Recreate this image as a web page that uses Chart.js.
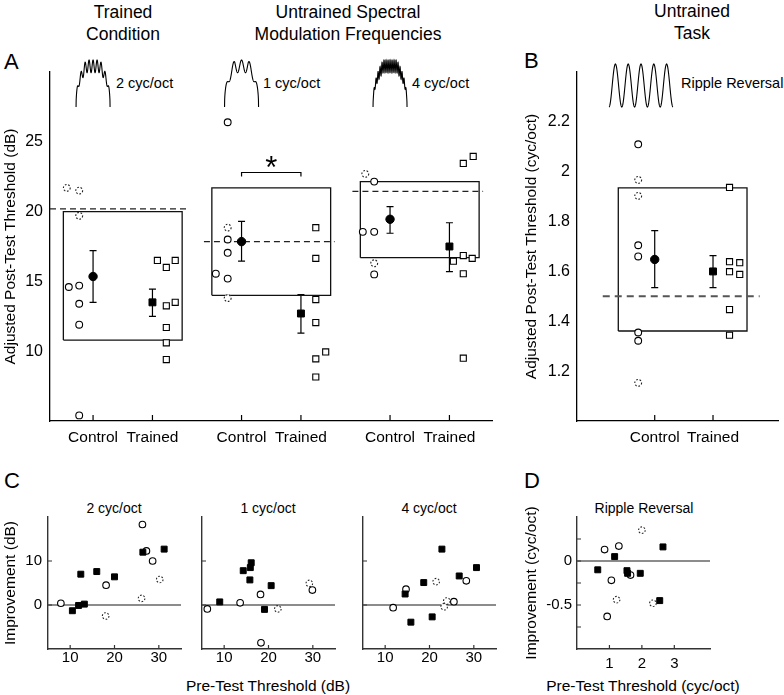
<!DOCTYPE html>
<html><head><meta charset="utf-8">
<script src="https://cdn.jsdelivr.net/npm/chart.js@4.4.1/dist/chart.umd.min.js"></script>
<style>
html,body{margin:0;padding:0;background:#fff;}
body{width:784px;height:695px;position:relative;overflow:hidden;font-family:"Liberation Sans",Arial,Helvetica,sans-serif;color:#000;}
canvas{position:absolute;}
.t{position:absolute;white-space:nowrap;}
.ttl{font-size:17.5px;line-height:22px;text-align:center;}
.let{font-size:22px;line-height:26px;}
.ic{font-size:14.5px;line-height:18px;}
.sub{font-size:14px;line-height:18px;text-align:center;width:140px;}
.xt{font-size:15.5px;line-height:20px;text-align:center;width:300px;top:676px;}
</style></head><body>
<div class="t ttl" style="left:23px;top:1px;width:200px;">Trained<br>Condition</div>
<div class="t ttl" style="left:198px;top:1px;width:300px;">Untrained Spectral<br>Modulation Frequencies</div>
<div class="t ttl" style="left:592px;top:0px;width:200px;">Untrained<br>Task</div>
<div class="t let" style="left:4px;top:49px;">A</div>
<div class="t let" style="left:524px;top:48px;">B</div>
<div class="t let" style="left:4px;top:468px;">C</div>
<div class="t let" style="left:524px;top:468px;">D</div>
<div class="t ic" style="left:116px;top:74px;">2 cyc/oct</div>
<div class="t ic" style="left:263px;top:74px;">1 cyc/oct</div>
<div class="t ic" style="left:412px;top:74px;">4 cyc/oct</div>
<div class="t ic" style="left:681px;top:74px;">Ripple Reversal</div>
<div class="t sub" style="left:44px;top:499px;">2 cyc/oct</div>
<div class="t sub" style="left:198px;top:499px;">1 cyc/oct</div>
<div class="t sub" style="left:359px;top:499px;">4 cyc/oct</div>
<div class="t sub" style="left:574px;top:499px;">Ripple Reversal</div>
<div class="t xt" style="left:118px;">Pre-Test Threshold (dB)</div>
<div class="t xt" style="left:493px;">Pre-Test Threshold (cyc/oct)</div>

<canvas id="cA" width="500" height="450" style="left:0px;top:0px;width:500px;height:450px;"></canvas>
<canvas id="cB" width="279" height="450" style="left:505px;top:0px;width:279px;height:450px;"></canvas>
<canvas id="cC1" width="190" height="195" style="left:0px;top:500px;width:190px;height:195px;"></canvas>
<canvas id="cC2" width="154" height="195" style="left:190px;top:500px;width:154px;height:195px;"></canvas>
<canvas id="cC3" width="160" height="195" style="left:344px;top:500px;width:160px;height:195px;"></canvas>
<canvas id="cD" width="279" height="195" style="left:505px;top:500px;width:279px;height:195px;"></canvas>

<script>
// ================= DATA =================
const groupNames = ['2 cyc/oct', '1 cyc/oct', '4 cyc/oct'];
const conditionLabels = ['Control', 'Trained'];
const spectrumCycles = [8.5, 4.3, 17];   // ripples drawn in the header icons
const yTicksA = [10, 15, 20, 25];
const yTicksB = [1.2, 1.4, 1.6, 1.8, 2, 2.2];

// Panel A: adjusted post-test thresholds (dB); *Jit = horizontal jitter of each marker
const ctrlSolid2 = [14.6, 14.7, 13.4, 11.9, 5.4];
const ctrlSolid2Jit = [-0.49, -0.28, -0.28, -0.28, -0.28];
const ctrlDash2 = [21.7, 21.5, 19.7];
const ctrlDash2Jit = [-0.53, -0.28, -0.28];
const trained2 = [16.5, 16.0, 16.5, 13.25, 13.5, 11.7, 10.6, 9.4];
const trained2Jit = [0.1, 0.28, 0.46, 0.28, 0.46, 0.28, 0.28, 0.28];

const ctrlSolid1 = [26.4, 18.0, 17.05, 15.55, 15.2];
const ctrlSolid1Jit = [-0.28, -0.28, -0.28, -0.52, -0.28];
const ctrlDash1 = [18.85, 13.8];
const ctrlDash1Jit = [-0.28, -0.28];
const trained1 = [18.85, 16.65, 13.7, 12.05, 9.45, 9.95, 8.15];
const trained1Jit = [0.3, 0.3, 0.3, 0.3, 0.3, 0.5, 0.3];

const ctrlSolid4 = [22.15, 18.55, 18.55, 15.5];
const ctrlSolid4Jit = [-0.32, -0.55, -0.32, -0.32];
const ctrlDash4 = [22.7, 16.3];
const ctrlDash4Jit = [-0.5, -0.32];
const trained4 = [16.45, 23.45, 23.95, 16.85, 16.65, 15.55, 9.5];
const trained4Jit = [0.08, 0.28, 0.48, 0.28, 0.46, 0.28, 0.28];

const meanCtrlA = [15.35, 17.85, 19.45];
const errHiCtrlA = [17.2, 19.3, 20.35];
const errLoCtrlA = [13.5, 16.45, 18.45];
const meanTrainA = [13.5, 12.7, 17.5];
const errHiTrainA = [14.45, 14.05, 19.2];
const errLoTrainA = [12.5, 11.3, 15.7];
const boxTopA = [20.0, 21.7, 22.15];
const boxBottomA = [10.8, 14.0, 16.7];
const pretestA = [20.2, 17.85, 21.45];
const sigBracketA = 22.8;

// Panel B: ripple reversal thresholds (cyc/oct)
const bCtrlSolid = [2.11, 1.705, 1.66, 1.355, 1.322];
const bCtrlDash = [1.967, 1.903, 1.153];
const bTrained = [1.937, 1.639, 1.635, 1.599, 1.588, 1.447, 1.344];
const bTrainedJit = [0.34, 0.34, 0.55, 0.34, 0.55, 0.34, 0.34];
const bCtrlJit = -0.34;
const meanB = [1.648, 1.6];
const errHiB = [1.764, 1.663];
const errLoB = [1.535, 1.535];
const boxTopB = 1.935, boxBottomB = 1.361, pretestB = 1.5;

// Panel C: pre-test threshold (dB) vs improvement (dB)
const c2CtrlPre = [7.9, 18.1, 27.2, 28.6, 26.3];
const c2CtrlImp = [0.4, 4.5, 12.3, 10.0, 18.3];
const c2CtrlDPre = [18.0, 26.1, 30.2];
const c2CtrlDImp = [-2.5, 1.5, 5.8];
const c2TrnPre = [10.5, 11.9, 13.2, 12.4, 16.0, 20.0, 26.4, 31.2];
const c2TrnImp = [-1.3, -0.1, 0.2, 7.0, 7.6, 6.4, 12.0, 12.7];

const c1CtrlPre = [6.2, 13.6, 18.2, 18.3, 29.9];
const c1CtrlImp = [-0.9, 0.5, 2.4, -8.6, 3.4];
const c1CtrlDPre = [22.1, 29.2];
const c1CtrlDImp = [-0.9, 4.9];
const c1TrnPre = [9.0, 14.3, 15.9, 16.1, 15.8, 19.1, 20.6];
const c1TrnImp = [0.7, 7.8, 8.5, 9.6, 5.7, -1.0, 4.4];

const c4CtrlPre = [11.8, 14.7, 25.5, 28.3];
const c4CtrlImp = [-0.6, 3.6, 0.75, 5.5];
const c4CtrlDPre = [21.5, 23.3, 23.9];
const c4CtrlDImp = [5.3, -0.4, 0.9];
const c4TrnPre = [14.5, 15.8, 18.7, 20.6, 22.8, 26.7, 30.6];
const c4TrnImp = [2.5, -3.9, 5.1, -2.7, 12.7, 6.6, 8.5];
const xTicksC = [10, 20, 30];
const yTicksC = [0, 10];

// Panel D: pre-test threshold (cyc/oct) vs improvement (cyc/oct)
const dCtrlPre = [0.85, 1.29, 1.06, 0.93, 1.65];
const dCtrlImp = [0.13, 0.17, -0.22, -0.63, -0.16];
const dCtrlDPre = [1.22, 2.34, 2.0];
const dCtrlDImp = [-0.44, -0.48, 0.35];
const dTrnPre = [0.64, 1.16, 1.54, 1.56, 1.95, 2.55, 2.65];
const dTrnImp = [-0.1, 0.05, -0.11, -0.14, -0.14, -0.45, 0.16];
const xTicksD = [1, 2, 3];
const yTicksDLabels = [-0.5, 0];
const yTicksDMarks = [-0.75, -0.5, -0.25, 0, 0.25];

// ================= DRAWING =================
Chart.defaults.font.family = '"Liberation Sans", Arial, Helvetica, sans-serif';
Chart.defaults.color = '#000';

const ctrlPosA = [2, 5, 8];
const trainOffset = 1.2;

function makeDecor(cfg) {
  return {
    id: 'decor',
    beforeDatasetsDraw(chart) {
      const ctx = chart.ctx, ca = chart.chartArea, xs = chart.scales.x, ys = chart.scales.y;
      ctx.save();
      if (cfg.zeroLine) {
        ctx.strokeStyle = '#666'; ctx.lineWidth = 1.6;
        const py = ys.getPixelForValue(0);
        ctx.beginPath(); ctx.moveTo(ca.left, py); ctx.lineTo(ca.right, py); ctx.stroke();
      }
      (cfg.errorBars || []).forEach(e => {
        const px = xs.getPixelForValue(e.x), p1 = ys.getPixelForValue(e.hi), p2 = ys.getPixelForValue(e.lo);
        ctx.strokeStyle = '#000'; ctx.lineWidth = 1.2;
        ctx.beginPath();
        ctx.moveTo(px, p1); ctx.lineTo(px, p2);
        ctx.moveTo(px - 3.5, p1); ctx.lineTo(px + 3.5, p1);
        ctx.moveTo(px - 3.5, p2); ctx.lineTo(px + 3.5, p2);
        ctx.stroke();
      });
      ctx.restore();
    },
    beforeDatasetDraw(chart, args) {
      const ds = chart.data.datasets[args.index];
      if (ds.dashedMarker) chart.ctx.setLineDash([1.7, 1.7]);
    },
    afterDatasetDraw(chart) { chart.ctx.setLineDash([]); },
    afterDraw(chart) {
      const ctx = chart.ctx, ca = chart.chartArea, xs = chart.scales.x, ys = chart.scales.y;
      ctx.save();
      ctx.strokeStyle = cfg.tickColor || '#000'; ctx.lineWidth = 1.2;
      const len = cfg.tickLen || 4;
      ctx.beginPath();
      (cfg.xTicks || []).forEach(v => { const px = xs.getPixelForValue(v); ctx.moveTo(px, ca.bottom); ctx.lineTo(px, ca.bottom - len); });
      (cfg.yTicks || []).forEach(v => { const py = ys.getPixelForValue(v); ctx.moveTo(ca.left, py); ctx.lineTo(ca.left + len, py); });
      ctx.stroke();
      if (cfg.bracket) {
        const b = cfg.bracket;
        const x1 = xs.getPixelForValue(b.x1), x2 = xs.getPixelForValue(b.x2), py = ys.getPixelForValue(b.y);
        ctx.strokeStyle = '#000'; ctx.lineWidth = 1.2;
        ctx.beginPath();
        ctx.moveTo(x1, py + 4); ctx.lineTo(x1, py); ctx.lineTo(x2, py); ctx.lineTo(x2, py + 4);
        ctx.stroke();
        ctx.fillStyle = '#000';
        ctx.font = '31px "Liberation Sans", Arial, sans-serif';
        ctx.textAlign = 'center'; ctx.textBaseline = 'middle';
        ctx.fillText('*', (x1 + x2) / 2, py - 3);
      }
      (cfg.spectra || []).forEach(s => {
        const cx = xs.getPixelForValue(s.x), w = 34, yTop = 60, yBot = 107, n = 400;
        ctx.strokeStyle = '#000'; ctx.lineWidth = 1.1;
        ctx.beginPath();
        for (let i = 0; i <= n; i++) {
          const t = i / n;
          const e = Math.pow(Math.min(1, Math.min(t, 1 - t) / 0.3), 0.4);
          const r = 1 - 0.27 * (0.5 - 0.5 * Math.cos(2 * Math.PI * s.cycles * (t - 0.5)));
          const x = cx - w / 2 + w * t, y = yBot - (yBot - yTop) * e * r;
          if (i) ctx.lineTo(x, y); else ctx.moveTo(x, y);
        }
        ctx.stroke();
      });
      if (cfg.sine) {
        const x0 = ca.left + 32, w = 64, yTop = 64, yBot = 107, n = 300;
        ctx.strokeStyle = '#000'; ctx.lineWidth = 1.1;
        ctx.beginPath();
        for (let i = 0; i <= n; i++) {
          const t = i / n;
          const x = x0 + w * t, y = yTop + (yBot - yTop) * (0.5 + 0.5 * Math.cos(2 * Math.PI * cfg.sine * t));
          if (i) ctx.lineTo(x, y); else ctx.moveTo(x, y);
        }
        ctx.stroke();
      }
      ctx.restore();
    }
  };
}

function pts(xs, ys) { return ys.map((y, i) => ({ x: Array.isArray(xs) ? xs[i] : xs, y })); }
function hollowCircle(data, r) { return { data, pointStyle: 'circle', pointRadius: r || 3.4, pointBorderWidth: 1.1, pointBackgroundColor: '#fff', pointBorderColor: '#000', backgroundColor: '#fff', borderColor: '#000', order: 2 }; }
function dashedCircle(data, r) { const d = hollowCircle(data, r); d.dashedMarker = true; d.pointBorderColor = '#222'; d.borderColor = '#222'; return d; }
function hollowSquare(data, r) { return { data, pointStyle: 'rect', pointRadius: r || 4.3, pointBorderWidth: 1.1, pointBackgroundColor: '#fff', pointBorderColor: '#000', backgroundColor: '#fff', borderColor: '#000', order: 2 }; }
function filledCircle(data, r) { return { data, pointStyle: 'circle', pointRadius: r || 4, pointBorderWidth: 1, pointBackgroundColor: '#000', pointBorderColor: '#000', backgroundColor: '#000', borderColor: '#000', order: 1 }; }
function filledSquare(data, r) { return { data, pointStyle: 'rect', pointRadius: r || 4.7, pointBorderWidth: 1, pointBackgroundColor: '#000', pointBorderColor: '#000', backgroundColor: '#000', borderColor: '#000', order: 1 }; }
function lineDs(data, color, width, dash, order) { return { data, showLine: true, pointRadius: 0, borderColor: color, borderWidth: width, borderDash: dash || [], fill: false, tension: 0, order: order || 10 }; }
function rect(x0, x1, y0, y1) { return [{ x: x0, y: y0 }, { x: x0, y: y1 }, { x: x1, y: y1 }, { x: x1, y: y0 }, { x: x0, y: y0 }]; }

const noGrid = { display: false, drawTicks: false };
const blackBorder = { display: true, color: '#000', width: 1.3 };
const greyBorder = { display: true, color: '#333', width: 1.4 };
const baseOpts = { responsive: false, maintainAspectRatio: false, animation: false, events: [] };
const noPlug = { legend: { display: false }, tooltip: { enabled: false } };

// ---------- Panel A ----------
const groupsA = [
  { cs: ctrlSolid2, csj: ctrlSolid2Jit, cd: ctrlDash2, cdj: ctrlDash2Jit, t: trained2, tj: trained2Jit },
  { cs: ctrlSolid1, csj: ctrlSolid1Jit, cd: ctrlDash1, cdj: ctrlDash1Jit, t: trained1, tj: trained1Jit },
  { cs: ctrlSolid4, csj: ctrlSolid4Jit, cd: ctrlDash4, cdj: ctrlDash4Jit, t: trained4, tj: trained4Jit }
];
const xMinA = 1.13, xMaxA = 10.06;
const dsA = [];
const errA = [];
const xTickPosA = [];
groupsA.forEach((g, gi) => {
  const c = ctrlPosA[gi], t = c + trainOffset;
  xTickPosA.push(c, t);
  dsA.push(filledCircle([{ x: c, y: meanCtrlA[gi] }], 4.2));
  dsA.push(filledSquare([{ x: t, y: meanTrainA[gi] }], 4.9));
  dsA.push(hollowCircle(g.cs.map((y, i) => ({ x: c + g.csj[i], y }))));
  dsA.push(dashedCircle(g.cd.map((y, i) => ({ x: c + g.cdj[i], y }))));
  dsA.push(hollowSquare(g.t.map((y, i) => ({ x: t + g.tj[i], y }))));
  dsA.push(lineDs(rect(c - 0.6, c + 1.8, boxBottomA[gi], boxTopA[gi]), '#111', 1.3, [], 10));
  const dx0 = gi === 0 ? xMinA : c - 0.76;
  dsA.push(lineDs([{ x: dx0, y: pretestA[gi] }, { x: c + 1.88, y: pretestA[gi] }], '#222', 1.3, [6, 4], 9));
  errA.push({ x: c, hi: errHiCtrlA[gi], lo: errLoCtrlA[gi] }, { x: t, hi: errHiTrainA[gi], lo: errLoTrainA[gi] });
});

new Chart(document.getElementById('cA'), {
  type: 'scatter',
  data: { datasets: dsA },
  options: Object.assign({}, baseOpts, {
    layout: { padding: { left: 0, top: 72, right: 8, bottom: 0 } },
    plugins: noPlug,
    scales: {
      x: {
        type: 'linear', min: xMinA, max: xMaxA, grid: noGrid, border: blackBorder,
        afterBuildTicks: s => { s.ticks = xTickPosA.map(v => ({ value: v })); },
        ticks: { autoSkip: false, maxRotation: 0, padding: 7, font: { size: 15.5 }, color: '#000', callback: (v, i) => conditionLabels[i % 2] },
        afterFit: s => { s.height = 29; }
      },
      y: {
        type: 'linear', min: 5, max: 30, grid: noGrid, border: blackBorder,
        afterBuildTicks: s => { s.ticks = yTicksA.map(v => ({ value: v })); },
        ticks: { padding: 7, font: { size: 16 }, color: '#000', callback: v => String(v) },
        title: { display: true, text: 'Adjusted Post-Test Threshold (dB)', font: { size: 15.5 }, color: '#000', padding: { top: 1, bottom: 0 } },
        afterFit: s => { s.width = 50; }
      }
    }
  }),
  plugins: [makeDecor({
    errorBars: errA,
    xTicks: xTickPosA, tickLen: 6,
    bracket: { x1: ctrlPosA[1], x2: ctrlPosA[1] + trainOffset, y: sigBracketA },
    spectra: ctrlPosA.map((c, i) => ({ x: c, cycles: spectrumCycles[i] }))
  })]
});

// ---------- Panel B ----------
const cB = 2, tB = cB + trainOffset;
const dsB = [
  filledCircle([{ x: cB, y: meanB[0] }], 4.2),
  filledSquare([{ x: tB, y: meanB[1] }], 4.9),
  hollowCircle(bCtrlSolid.map(y => ({ x: cB + bCtrlJit, y }))),
  dashedCircle(bCtrlDash.map(y => ({ x: cB + bCtrlJit, y }))),
  hollowSquare(bTrained.map((y, i) => ({ x: tB + bTrainedJit[i], y }))),
  lineDs(rect(cB - 0.75, cB + 1.9, boxBottomB, boxTopB), '#111', 1.3, [], 10),
  lineDs([{ x: cB - 1.07, y: pretestB }, { x: cB + 2.16, y: pretestB }], '#555', 2, [7, 5], 9)
];
new Chart(document.getElementById('cB'), {
  type: 'scatter',
  data: { datasets: dsB },
  options: Object.assign({}, baseOpts, {
    layout: { padding: { left: 0, top: 72, right: 2, bottom: 0 } },
    plugins: noPlug,
    scales: {
      x: {
        type: 'linear', min: 0.4, max: 4.54, grid: noGrid, border: blackBorder,
        afterBuildTicks: s => { s.ticks = [cB, tB].map(v => ({ value: v })); },
        ticks: { autoSkip: false, maxRotation: 0, padding: 7, font: { size: 15.5 }, color: '#000', callback: (v, i) => conditionLabels[i % 2] },
        afterFit: s => { s.height = 29; }
      },
      y: {
        type: 'linear', min: 1.0, max: 2.4, grid: noGrid, border: blackBorder,
        afterBuildTicks: s => { s.ticks = yTicksB.map(v => ({ value: v })); },
        ticks: { padding: 7, font: { size: 16 }, color: '#000', callback: v => String(Math.round(v * 10) / 10) },
        title: { display: true, text: 'Adjusted Post-Test Threshold (cyc/oct)', font: { size: 15.5 }, color: '#000', padding: { top: 17.7, bottom: 0 } },
        afterFit: s => { s.width = 72; }
      }
    }
  }),
  plugins: [makeDecor({
    errorBars: [{ x: cB, hi: errHiB[0], lo: errLoB[0] }, { x: tB, hi: errHiB[1], lo: errLoB[1] }],
    xTicks: [cB, tB], tickLen: 6,
    sine: 5
  })]
});

// ---------- Panel C ----------
function makeC(id, set, yAxisW, rightPad, showY) {
  const ds = [
    filledSquare(pts(set.tp, set.ti), 4.2),
    hollowCircle(pts(set.cp, set.ci), 3.3),
    dashedCircle(pts(set.dp, set.di), 3.3)
  ];
  new Chart(document.getElementById(id), {
    type: 'scatter',
    data: { datasets: ds },
    options: Object.assign({}, baseOpts, {
      layout: { padding: { left: 0, top: 17, right: rightPad, bottom: 28 } },
      plugins: noPlug,
      scales: {
        x: {
          type: 'linear', min: 5, max: 35, grid: noGrid, border: greyBorder,
          afterBuildTicks: s => { s.ticks = xTicksC.map(v => ({ value: v })); },
          ticks: { autoSkip: false, maxRotation: 0, padding: 0, font: { size: 15 }, color: '#000', callback: v => String(v) }
        },
        y: {
          type: 'linear', min: -10, max: 20, grid: noGrid, border: greyBorder,
          afterBuildTicks: s => { s.ticks = yTicksC.map(v => ({ value: v })); },
          ticks: { display: showY, padding: 6, font: { size: 15 }, color: '#000', callback: v => String(v) },
          title: { display: showY, text: 'Improvement (dB)', font: { size: 15.5 }, color: '#000', padding: { top: 1, bottom: 0 } },
          afterFit: s => { s.width = yAxisW; }
        }
      }
    }),
    plugins: [makeDecor({ zeroLine: true, xTicks: xTicksC, yTicks: yTicksC, tickLen: 4, tickColor: '#333' })]
  });
}
makeC('cC1', { cp: c2CtrlPre, ci: c2CtrlImp, dp: c2CtrlDPre, di: c2CtrlDImp, tp: c2TrnPre, ti: c2TrnImp }, 48, 9, true);
makeC('cC2', { cp: c1CtrlPre, ci: c1CtrlImp, dp: c1CtrlDPre, di: c1CtrlDImp, tp: c1TrnPre, ti: c1TrnImp }, 12, 9, false);
makeC('cC3', { cp: c4CtrlPre, ci: c4CtrlImp, dp: c4CtrlDPre, di: c4CtrlDImp, tp: c4TrnPre, ti: c4TrnImp }, 19, 8, false);

// ---------- Panel D ----------
new Chart(document.getElementById('cD'), {
  type: 'scatter',
  data: { datasets: [
    filledSquare(pts(dTrnPre, dTrnImp), 4.2),
    hollowCircle(pts(dCtrlPre, dCtrlImp), 3.3),
    dashedCircle(pts(dCtrlDPre, dCtrlDImp), 3.3)
  ] },
  options: Object.assign({}, baseOpts, {
    layout: { padding: { left: 0, top: 17, right: 74, bottom: 16 } },
    plugins: noPlug,
    scales: {
      x: {
        type: 'linear', min: 0, max: 4.1, grid: noGrid, border: greyBorder,
        afterBuildTicks: s => { s.ticks = xTicksD.map(v => ({ value: v })); },
        ticks: { autoSkip: false, maxRotation: 0, padding: 6, font: { size: 15 }, color: '#000', callback: v => String(v) }
      },
      y: {
        type: 'linear', min: -1, max: 0.5, grid: noGrid, border: greyBorder,
        afterBuildTicks: s => { s.ticks = yTicksDLabels.map(v => ({ value: v })); },
        ticks: { padding: 5, font: { size: 15 }, color: '#000', callback: v => String(v) },
        title: { display: true, text: 'Improvement (cyc/oct)', font: { size: 15.5 }, color: '#000', padding: { top: 17.7, bottom: 0 } },
        afterFit: s => { s.width = 72; }
      }
    }
  }),
  plugins: [makeDecor({ zeroLine: true, xTicks: xTicksD, yTicks: yTicksDMarks, tickLen: 4, tickColor: '#333' })]
});
</script>
</body></html>
